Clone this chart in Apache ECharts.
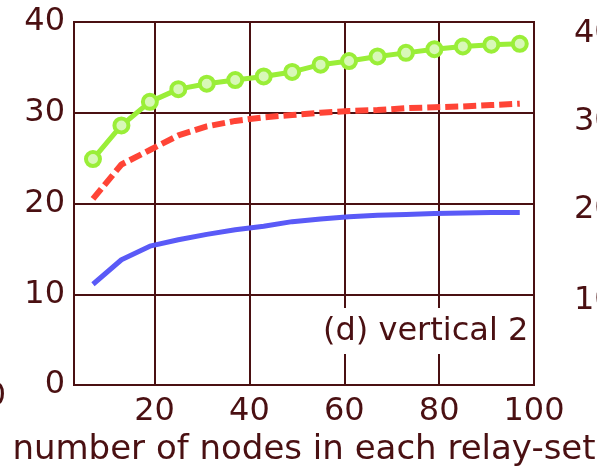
<!DOCTYPE html>
<html>
<head>
<meta charset="utf-8">
<script src="https://cdn.jsdelivr.net/npm/echarts@6/dist/echarts.min.js"></script>
<style>
html,body{margin:0;padding:0;background:#fff;}
#c{width:597px;height:466px;}
</style>
</head>
<body>
<div id="c"></div>
<script>
var xValues = [7,13,19,25,31,37,43,49,55,61,67,73,79,85,91,97];
var greenValues = [24.9,28.6,31.2,32.6,33.2,33.6,34.0,34.5,35.3,35.7,36.2,36.6,37.0,37.3,37.5,37.6];
var redValues = [20.5,24.3,25.9,27.5,28.5,29.1,29.5,29.75,30.0,30.2,30.3,30.5,30.6,30.7,30.85,31.0];
var blueValues = [11.1,13.8,15.3,16.0,16.6,17.1,17.5,18.0,18.3,18.55,18.7,18.8,18.9,18.95,19.0,19.0];
var xTicks = [20,40,60,80,100];
var xAxisName = 'number of nodes in each relay-set';
var panelLabel = '(d) vertical 2';
var rightPanelTicks = ['40','30','20','10'];
var leftPanelFragment = '0';

var ink = '#4a1012';
var font = 'DejaVu Sans';

function pairs(ys){ return xValues.map(function(x,i){ return [x, ys[i]]; }); }

var chart = echarts.init(document.getElementById('c'), null, {renderer:'canvas'});
var graphics = [
  {type:'text', left:321, top:308, z:100,
   style:{text:panelLabel, font:'32px "DejaVu Sans"', fill:ink, backgroundColor:'#fff', padding:[8,2,6,2]}}
];
var rightY = [34,122,210,301];
rightPanelTicks.forEach(function(t,i){
  graphics.push({type:'text', x:574, y:rightY[i], style:{text:t, font:'32px "DejaVu Sans"', fill:ink, verticalAlign:'middle', align:'left'}});
});
graphics.push({type:'text', x:6, y:397, style:{text:leftPanelFragment, font:'32px "DejaVu Sans"', fill:ink, verticalAlign:'middle', align:'right'}});

chart.setOption({
  animation:false,
  backgroundColor:'#fff',
  grid:{left:74, top:22, right:63, bottom:81, containLabel:false, outerBoundsMode:'none',
        show:true, borderColor:ink, borderWidth:2, backgroundColor:'transparent'},
  xAxis:{
    type:'value', min:3, max:100,
    name:xAxisName, nameLocation:'middle', nameGap:43,
    nameTextStyle:{fontFamily:font, fontSize:34, color:ink},
    axisLine:{show:true, lineStyle:{color:ink, width:2}},
    axisTick:{show:false, customValues:[20,40,60,80]},
    axisLabel:{customValues:xTicks, fontFamily:font, fontSize:32, color:ink, margin:11},
    splitLine:{show:true, lineStyle:{color:ink, width:2}}
  },
  yAxis:{
    type:'value', min:0, max:40, interval:10,
    axisLine:{show:true, lineStyle:{color:ink, width:2}},
    axisTick:{show:false},
    axisLabel:{fontFamily:font, fontSize:32, color:ink, margin:9, showMinLabel:true, showMaxLabel:true},
    splitLine:{show:true, lineStyle:{color:ink, width:2}}
  },
  series:[
    {type:'line', data:pairs(blueValues), showSymbol:false, symbol:'none',
     lineStyle:{color:'#5a5af7', width:5}, z:3},
    {type:'line', data:pairs(redValues), showSymbol:false, symbol:'none',
     lineStyle:{color:'#ff4436', width:6, type:[13,5]}, z:4},
    {type:'line', data:pairs(greenValues), symbol:'circle', symbolSize:14,
     lineStyle:{color:'#9aee38', width:5},
     itemStyle:{color:'#d8f8b8', borderColor:'#9aee38', borderWidth:4}, z:5}
  ],
  graphic:graphics
});
</script>
</body>
</html>
